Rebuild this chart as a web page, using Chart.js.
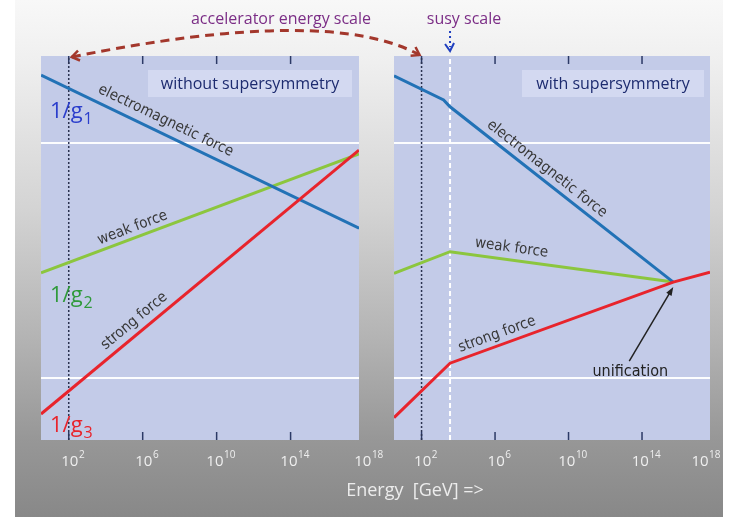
<!DOCTYPE html>
<html>
<head>
<meta charset="utf-8">
<script src="https://cdn.jsdelivr.net/npm/chart.js@4.4.1/dist/chart.umd.min.js"></script>
<style>
  html, body { margin: 0; padding: 0; background: #fff; }
  #stage { position: relative; width: 734px; height: 517px; overflow: hidden; }
  #bg { position: absolute; left: 15px; top: 0; width: 708px; height: 517px;
        background: linear-gradient(#f8f8f8 0%, #efefef 12%, #d4d4d4 40%, #b4b4b4 65%, #979797 85%, #888 100%); }
  canvas { position: absolute; left: 0; top: 0; }
</style>
</head>
<body>
<div id="stage">
  <div id="bg"></div>
  <canvas id="plain" width="734" height="517"></canvas>
  <canvas id="susy" width="734" height="517"></canvas>
</div>
<script>
// x is log10(E / GeV); y is 1/g in arbitrary units
const logERange = [0.5, 17.7];
const xTicks = [2, 6, 10, 14, 18];          // tick labels are 10^tick
const yGrid = [10, 48];
const accelScale = 2;
const susyScale = 3.55;

// without supersymmetry
const plainLogE = [0.5, 17.7];
const plainEM = [58.9, 34.2];
const plainWeak = [27.0, 46.2];
const plainStrong = [4.2, 46.8];

// with supersymmetry
const susyEMLogE = [0.5, 3.2, 3.55, 15.7];
const susyEM = [58.8, 54.9, 53.8, 25.5];
const susyWeakLogE = [0.5, 3.55, 15.7];
const susyWeak = [26.9, 30.4, 25.5];
const susyStrongLogE = [0.5, 3.55, 15.7, 17.7];
const susyStrong = [3.6, 12.4, 25.5, 27.1];

const BLUE = '#2272b6', GREEN = '#8cc63e', RED = '#e8242c';
const NARROW = '"Liberation Sans Narrow", "DejaVu Sans Condensed", sans-serif';

function pts(xs, ys) { return xs.map((x, i) => ({ x: x, y: ys[i] })); }

function curve(xs, ys, color) {
  return { data: pts(xs, ys), borderColor: color, borderWidth: 3, pointRadius: 0, tension: 0 };
}
function vline(x, color, dash, width) {
  return { data: pts([x, x], [0, 62]), borderColor: color, borderDash: dash, borderWidth: width, pointRadius: 0 };
}

// text written along a line, centred at xv, lifted off the line by `off` pixels
function lineLabel(chart, xs, ys, xv, text, off, size) {
  const ctx = chart.ctx, sx = chart.scales.x, sy = chart.scales.y;
  let i = 0;
  while (i < xs.length - 2 && xv > xs[i + 1]) i++;
  const x0 = sx.getPixelForValue(xs[i]), y0 = sy.getPixelForValue(ys[i]);
  const x1 = sx.getPixelForValue(xs[i + 1]), y1 = sy.getPixelForValue(ys[i + 1]);
  const t = (xv - xs[i]) / (xs[i + 1] - xs[i]);
  ctx.save();
  ctx.translate(x0 + t * (x1 - x0), y0 + t * (y1 - y0));
  ctx.rotate(Math.atan2(y1 - y0, x1 - x0));
  ctx.font = size + 'px ' + NARROW;
  ctx.fillStyle = '#383838';
  ctx.textAlign = 'center';
  ctx.textBaseline = 'middle';
  ctx.fillText(text, 0, -off);
  ctx.restore();
}

const panelBg = {
  id: 'panelBg',
  beforeDraw(chart) {
    const { ctx, chartArea: a } = chart;
    ctx.save();
    ctx.fillStyle = '#c3cbe8';
    ctx.fillRect(a.left, a.top, a.width, a.height);
    ctx.restore();
  }
};

// short tick marks inside the panel, top and bottom
const innerTicks = {
  id: 'innerTicks',
  beforeDatasetsDraw(chart) {
    const { ctx, chartArea: a, scales: { x } } = chart;
    ctx.save();
    ctx.strokeStyle = '#2c3a66';
    ctx.lineWidth = 1.5;
    x.ticks.forEach(t => {
      if (t.value > x.max) return;
      const px = x.getPixelForValue(t.value);
      ctx.beginPath();
      ctx.moveTo(px, a.bottom); ctx.lineTo(px, a.bottom - 8);
      ctx.moveTo(px, a.top); ctx.lineTo(px, a.top + 8);
      ctx.stroke();
    });
    ctx.restore();
  }
};

// "10" with a raised exponent under each tick
const powerLabels = {
  id: 'powerLabels',
  afterDraw(chart) {
    const { ctx, scales: { x } } = chart;
    ctx.save();
    ctx.fillStyle = '#efefef';
    ctx.textBaseline = 'alphabetic';
    x.ticks.forEach(t => {
      const exp = String(t.value);
      ctx.font = '15px "Open Sans"';
      const w1 = ctx.measureText('10').width;
      ctx.font = '10px "Open Sans"';
      const w2 = ctx.measureText(exp).width;
      let cx = x.getPixelForValue(t.value) + 4;
      cx = Math.min(cx, 720 - (w1 + w2) / 2);
      const left = cx - (w1 + w2) / 2;
      ctx.font = '15px "Open Sans"';
      ctx.fillText('10', left, x.top + 26);
      ctx.font = '10px "Open Sans"';
      ctx.fillText(exp, left + w1 + 0.5, x.top + 18);
    });
    ctx.restore();
  }
};

const heading = {
  id: 'heading',
  beforeDatasetsDraw(chart, args, opts) {
    const { ctx, chartArea: a } = chart;
    const left = a.right - opts.inset - opts.width;
    ctx.save();
    ctx.fillStyle = '#d3d9f1';
    ctx.fillRect(left, a.top + 14, opts.width, 27);
    ctx.font = '16px "Open Sans"';
    ctx.fillStyle = '#1d2b6f';
    ctx.textAlign = 'center';
    ctx.textBaseline = 'middle';
    ctx.fillText(opts.text, left + opts.width / 2, a.top + 28);
    ctx.restore();
  }
};

function panelOptions(padLeft, padRight, title, boxW, inset) {
  return {
    responsive: false,
    animation: false,
    events: [],
    layout: { padding: { left: padLeft, right: padRight, top: 56, bottom: 0 } },
    plugins: {
      legend: { display: false },
      tooltip: { enabled: false },
      heading: { text: title, width: boxW, inset: inset }
    },
    scales: {
      x: {
        type: 'linear', min: logERange[0], max: logERange[1],
        afterBuildTicks: s => { s.ticks = xTicks.map(v => ({ value: v })); },
        afterFit: s => { s.height = 77; },
        grid: { display: false },
        border: { display: false },
        ticks: { display: false }
      },
      y: {
        type: 'linear', min: 0, max: 62,
        afterBuildTicks: s => { s.ticks = yGrid.map(v => ({ value: v })); },
        afterFit: s => { s.width = 0; },
        grid: { color: 'rgba(255,255,255,0.95)', lineWidth: 2, drawTicks: false },
        border: { display: false },
        ticks: { display: false }
      }
    }
  };
}

// left panel: without supersymmetry
const plainChart = new Chart(document.getElementById('plain'), {
  type: 'line',
  data: {
    datasets: [
      curve(plainLogE, plainStrong, RED),
      curve(plainLogE, plainEM, BLUE),
      curve(plainLogE, plainWeak, GREEN),
      vline(accelScale, '#2b3350', [2, 2], 1.5)
    ]
  },
  options: panelOptions(41, 375, 'without supersymmetry', 204, 7),
  plugins: [panelBg, innerTicks, heading, powerLabels, {
    id: 'plainLabels',
    afterDatasetsDraw(chart) {
      lineLabel(chart, plainLogE, plainEM, 6.94, 'electromagnetic force', 13, 15);
      lineLabel(chart, plainLogE, plainWeak, 5.64, 'weak force', 10, 15);
      lineLabel(chart, plainLogE, plainStrong, 5.96, 'strong force', 12, 15);
      const ctx = chart.ctx, L = chart.chartArea.left;
      [['1', '#2b3ecc', 118], ['2', '#2f9a3a', 302], ['3', RED, 432]].forEach(([sub, col, base]) => {
        ctx.save();
        ctx.fillStyle = col;
        ctx.textBaseline = 'alphabetic';
        ctx.font = '22px "Open Sans"';
        ctx.fillText('1/g', L + 9, base);
        const w = ctx.measureText('1/g').width;
        ctx.font = '16px "Open Sans"';
        ctx.fillText(sub, L + 9 + w + 1, base + 6);
        ctx.restore();
      });
    }
  }]
});

// right panel: with supersymmetry, plus the annotations above both panels
const susyChart = new Chart(document.getElementById('susy'), {
  type: 'line',
  data: {
    datasets: [
      curve(susyStrongLogE, susyStrong, RED),
      curve(susyEMLogE, susyEM, BLUE),
      curve(susyWeakLogE, susyWeak, GREEN),
      vline(accelScale, '#2b3350', [2, 2], 1.5),
      vline(susyScale, '#ffffff', [5, 3], 2)
    ]
  },
  options: panelOptions(394, 24, 'with supersymmetry', 182, 6),
  plugins: [panelBg, innerTicks, heading, powerLabels, {
    id: 'susyLabels',
    afterDatasetsDraw(chart) {
      lineLabel(chart, susyEMLogE, susyEM, 8.45, 'electromagnetic force', 11, 15);
      lineLabel(chart, susyWeakLogE, susyWeak, 6.81, 'weak force', 12, 15);
      lineLabel(chart, susyStrongLogE, susyStrong, 6.32, 'strong force', 11, 15);

      // unification arrow
      const ctx = chart.ctx;
      const tx = chart.scales.x.getPixelForValue(susyStrongLogE[2]);
      const ty = chart.scales.y.getPixelForValue(susyStrong[2]) + 5;
      const fx = tx - 44, fy = ty + 74;
      const ang = Math.atan2(ty - fy, tx - fx);
      ctx.save();
      ctx.strokeStyle = '#222'; ctx.fillStyle = '#222'; ctx.lineWidth = 1.5;
      ctx.beginPath(); ctx.moveTo(fx, fy); ctx.lineTo(tx - 6 * Math.cos(ang), ty - 6 * Math.sin(ang)); ctx.stroke();
      ctx.beginPath();
      ctx.moveTo(tx, ty);
      ctx.lineTo(tx - 9 * Math.cos(ang - 0.35), ty - 9 * Math.sin(ang - 0.35));
      ctx.lineTo(tx - 9 * Math.cos(ang + 0.35), ty - 9 * Math.sin(ang + 0.35));
      ctx.closePath(); ctx.fill();
      ctx.font = '16px ' + NARROW;
      ctx.textAlign = 'center'; ctx.textBaseline = 'middle';
      ctx.fillText('unification', fx + 1, fy + 11);
      ctx.restore();
    },
    afterDraw(chart) {
      const ctx = chart.ctx;
      const lx = plainChart.scales.x.getPixelForValue(accelScale) + 3;
      const rx = chart.scales.x.getPixelForValue(accelScale) - 2;
      const sx = chart.scales.x.getPixelForValue(susyScale);
      const p0 = { x: lx, y: 57 }, p2 = { x: rx, y: 55 };
      const c = { x: p0.x + 0.74 * (p2.x - p0.x), y: 5 };
      ctx.save();
      // dashed arc for the accelerator energy scale
      ctx.strokeStyle = '#a3372c'; ctx.lineWidth = 3;
      ctx.setLineDash([9, 6]);
      ctx.beginPath(); ctx.moveTo(p0.x, p0.y); ctx.quadraticCurveTo(c.x, c.y, p2.x, p2.y); ctx.stroke();
      ctx.setLineDash([]);
      ctx.lineWidth = 2.5;
      [[p0, Math.atan2(p0.y - c.y, p0.x - c.x)], [p2, Math.atan2(p2.y - c.y, p2.x - c.x)]].forEach(([p, a]) => {
        ctx.beginPath();
        ctx.moveTo(p.x - 9 * Math.cos(a - 0.6), p.y - 9 * Math.sin(a - 0.6));
        ctx.lineTo(p.x, p.y);
        ctx.lineTo(p.x - 9 * Math.cos(a + 0.6), p.y - 9 * Math.sin(a + 0.6));
        ctx.stroke();
      });
      // small dotted arrow for the susy scale
      ctx.strokeStyle = '#1f3fbf'; ctx.lineWidth = 2;
      ctx.setLineDash([2, 3]);
      ctx.beginPath(); ctx.moveTo(sx, 31); ctx.lineTo(sx, 47); ctx.stroke();
      ctx.setLineDash([]);
      ctx.beginPath(); ctx.moveTo(sx - 5, 44); ctx.lineTo(sx, 51); ctx.lineTo(sx + 4, 43); ctx.stroke();
      // captions
      ctx.font = '16px "Open Sans"';
      ctx.fillStyle = '#7b2d86';
      ctx.textAlign = 'center'; ctx.textBaseline = 'middle';
      ctx.fillText('accelerator energy scale', 281, 19);
      ctx.fillText('susy scale', 464, 19);
      ctx.font = '18px "Open Sans"';
      ctx.fillStyle = '#ececec';
      ctx.fillText('Energy  [GeV] =>', 415, 491);
      ctx.restore();
    }
  }]
});
</script>
</body>
</html>
